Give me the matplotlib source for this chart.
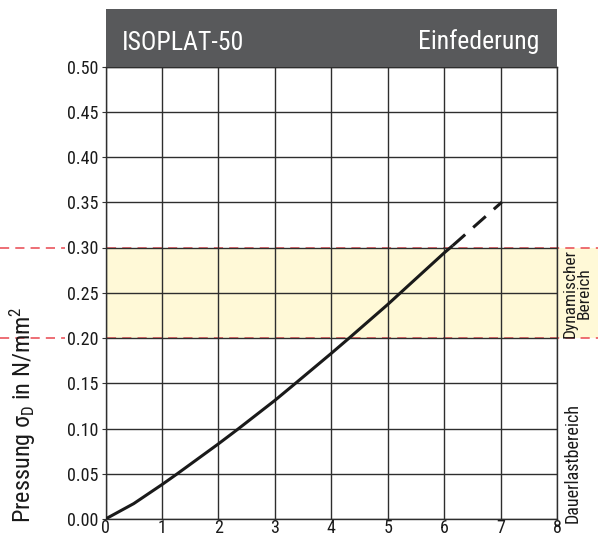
import matplotlib
matplotlib.use("Agg")
import matplotlib.pyplot as plt
from matplotlib import font_manager
from matplotlib.lines import Line2D
from matplotlib.patches import Rectangle
import matplotlib.transforms as mtransforms

# Load curve: deflection (mm) vs. pressure (N/mm²)
deflection_solid = [0.0, 0.5, 1.0, 1.25, 2.0, 2.34, 3.0, 3.31, 4.0, 4.30, 5.0, 5.28, 6.0, 6.15]
pressure_solid = [0.0, 0.017, 0.038, 0.049, 0.083, 0.099, 0.131, 0.147, 0.183, 0.199,
                  0.237, 0.253, 0.294, 0.302]
deflection_dashed = [6.15, 7.02]
pressure_dashed = [0.302, 0.350]

dynamic_range = (0.20, 0.30)
x_ticks = [0, 1, 2, 3, 4, 5, 6, 7, 8]
y_ticks = [0.00, 0.05, 0.10, 0.15, 0.20, 0.25, 0.30, 0.35, 0.40, 0.45, 0.50]

title_left = "ISOPLAT-50"
title_right = "Einfederung"


def pick_narrow_font():
    """Return (family, stretch) for the narrowest installed sans face."""
    fonts = font_manager.fontManager.ttflist
    names = {f.name for f in fonts}
    for fam in ["Liberation Sans Narrow", "Roboto Condensed", "Open Sans Condensed",
                "DejaVu Sans Condensed", "Noto Sans Condensed"]:
        if fam in names:
            return fam, "normal"
    for f in fonts:
        st = str(f.stretch).lower()
        if f.name in ("DejaVu Sans", "Noto Sans", "Open Sans", "Roboto") and \
                ("condensed" in st or (st.isdigit() and int(st) < 500)) and f.weight in (400, "normal", "regular"):
            return f.name, "condensed"
    return "Liberation Sans", "normal"


FAMILY, STRETCH = pick_narrow_font()
plt.rcParams["font.family"] = [FAMILY, "DejaVu Sans"]
plt.rcParams["font.stretch"] = STRETCH
plt.rcParams["mathtext.fontset"] = "custom"
plt.rcParams["mathtext.rm"] = FAMILY
plt.rcParams["mathtext.it"] = FAMILY

W, H = 598, 541
fig = plt.figure(figsize=(W / 100, H / 100), dpi=100)

left, right, bottom, top = 105.5, 557, 519, 66.5
ax = fig.add_axes([left / W, 1 - bottom / H, (right - left) / W, (bottom - top) / H])

ax.set_xlim(0, 8)
ax.set_ylim(0, 0.5)
ax.set_xticks(x_ticks)
ax.set_yticks(y_ticks)
ax.set_xticklabels([str(v) for v in x_ticks])
ax.set_yticklabels([f"{v:.2f}" for v in y_ticks])
ax.tick_params(axis="both", labelsize=13, length=3, width=0.8, color="#333333",
               labelcolor="#1a1a1a", pad=2)
ax.tick_params(axis="x", length=0, pad=0)

ax.grid(True, color="#2e2e2e", linewidth=1.0)
for s in ax.spines.values():
    s.set_color("#2e2e2e")
    s.set_linewidth(1.0)

# Dynamic range band, extending into the right margin
right_ext = (W - left) / (right - left)
band_tr = mtransforms.blended_transform_factory(ax.transAxes, ax.transData)
ax.add_patch(Rectangle((0, dynamic_range[0]), right_ext, dynamic_range[1] - dynamic_range[0],
                       transform=band_tr, facecolor="#fff9d7", edgecolor="none",
                       zorder=0.5, clip_on=False))

# Red dashed limits across the whole width
left_ext = -left / (right - left)
for yv in dynamic_range:
    ln = Line2D([left_ext, right_ext], [yv, yv], transform=band_tr, color="#e8474f",
                linewidth=1.1, dashes=(6, 4), zorder=1.2, clip_on=False)
    ax.add_line(ln)

for t in ax.get_yticklabels():
    if t.get_text() in ("0.20", "0.30"):
        t.set_bbox(dict(facecolor="white", edgecolor="none", pad=1.5))

ax.plot(deflection_solid, pressure_solid, color="#1a1a1a", linewidth=2.2,
        solid_capstyle="butt", solid_joinstyle="round", zorder=3)
ax.plot(deflection_dashed, pressure_dashed, color="#1a1a1a", linewidth=2.2,
        dashes=(5.5, 3.5), dash_capstyle="butt", zorder=3)

# Axis title
fig.text(23 / W, 1 - 415 / H, r"Pressung $\sigma_\mathrm{D}$ in N/mm$^2$", rotation=90,
         fontsize=17.5, color="#1a1a1a", ha="center", va="center")

# Header bar
header_top = 9
fig.add_artist(Rectangle((left / W, 1 - top / H), (right - left) / W, (top - header_top) / H,
                         transform=fig.transFigure, facecolor="#58595b", edgecolor="none"))
yb = 1 - 49.5 / H
fig.text(122 / W, yb, title_left, color="white", fontsize=18.5, va="baseline", ha="left")
fig.text(539 / W, yb, title_right, color="white", fontsize=18.5, va="baseline", ha="right")

# Range labels in the right margin
fig.text(577 / W, 1 - 293 / H, "Dynamischer\nBereich", rotation=90, fontsize=12.5,
         ha="center", va="center", multialignment="center", color="#1a1a1a",
         linespacing=0.95)
fig.text(573 / W, 1 - 523 / H, "Dauerlastbereich", rotation=90, fontsize=13,
         ha="center", va="bottom", color="#1a1a1a")

fig.savefig("out.png", dpi=100)
